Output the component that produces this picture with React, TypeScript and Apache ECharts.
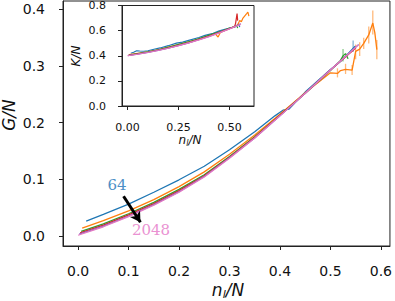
import React, { useEffect, useRef } from "react";
import * as echarts from "echarts";

// ---- Main panel data: G/N vs n_l/N ----
const sizes = ["64", "128", "256", "512", "1024", "2048"];
const colors = ["#1f77b4", "#ff7f0e", "#2ca02c", "#d62728", "#9467bd", "#e377c2"];

const mainN64 = [0.016, 0.05, 0.1, 0.15, 0.2, 0.25, 0.3, 0.35, 0.39, 0.406, 0.418, 0.45, 0.5, 0.52, 0.535, 0.549];
const mainG64 = [0.026, 0.038, 0.056, 0.077, 0.099, 0.123, 0.152, 0.184, 0.212, 0.222, 0.224, 0.254, 0.294, 0.308, 0.322, 0.335];
const mainN128 = [0.008, 0.05, 0.1, 0.15, 0.2, 0.25, 0.3, 0.35, 0.4, 0.45, 0.5, 0.514, 0.52, 0.53, 0.543, 0.55, 0.558, 0.566, 0.576, 0.584, 0.588, 0.592];
const mainG128 = [0.0136, 0.027, 0.044, 0.064, 0.087, 0.113, 0.144, 0.178, 0.215, 0.253, 0.288, 0.287, 0.292, 0.294, 0.293, 0.326, 0.330, 0.340, 0.355, 0.376, 0.359, 0.329];
const mainN256 = [0.006, 0.05, 0.1, 0.15, 0.2, 0.25, 0.3, 0.35, 0.4, 0.45, 0.5, 0.52, 0.525, 0.53, 0.535];
const mainG256 = [0.008, 0.021, 0.039, 0.059, 0.082, 0.108, 0.140, 0.175, 0.213, 0.252, 0.292, 0.310, 0.318, 0.322, 0.313];
const mainN512 = [0.004, 0.05, 0.1, 0.15, 0.2, 0.25, 0.3, 0.35, 0.4, 0.45, 0.5, 0.54, 0.55];
const mainG512 = [0.005, 0.019, 0.037, 0.057, 0.080, 0.106, 0.139, 0.174, 0.213, 0.252, 0.293, 0.324, 0.332];
const mainN1024 = [0.002, 0.05, 0.1, 0.15, 0.2, 0.25, 0.3, 0.35, 0.4, 0.45, 0.5, 0.556];
const mainG1024 = [0.003, 0.017, 0.035, 0.055, 0.078, 0.105, 0.138, 0.173, 0.212, 0.252, 0.293, 0.338];
const mainN2048 = [0.0, 0.05, 0.1, 0.15, 0.2, 0.25, 0.3, 0.35, 0.4, 0.45, 0.5, 0.555];
const mainG2048 = [0.001, 0.016, 0.034, 0.054, 0.077, 0.104, 0.137, 0.173, 0.212, 0.252, 0.293, 0.337];

// error bars on the noisy tail (n, low, high)
const errN = [0.514, 0.53, 0.543, 0.55, 0.558, 0.566, 0.576, 0.584, 0.592, 0.525, 0.545];
const errLo = [0.280, 0.286, 0.284, 0.312, 0.318, 0.330, 0.340, 0.356, 0.312, 0.308, 0.325];
const errHi = [0.296, 0.304, 0.302, 0.338, 0.342, 0.350, 0.370, 0.398, 0.346, 0.330, 0.345];
const errColor = ["#ff7f0e", "#ff7f0e", "#ff7f0e", "#ff7f0e", "#ff7f0e", "#ff7f0e", "#ff7f0e", "#ff7f0e", "#ff7f0e", "#2ca02c", "#1f77b4"];

// ---- Inset data: K/N vs n_l/N ----
const insN64 = [0.016, 0.03, 0.045, 0.06, 0.08, 0.1, 0.13, 0.16, 0.2, 0.24, 0.27, 0.3, 0.35, 0.38, 0.42, 0.45, 0.5, 0.53, 0.545, 0.55];
const insK64 = [0.420, 0.428, 0.440, 0.438, 0.436, 0.440, 0.452, 0.462, 0.480, 0.500, 0.508, 0.522, 0.545, 0.562, 0.578, 0.598, 0.620, 0.632, 0.655, 0.628];
const insN128 = [0.008, 0.05, 0.1, 0.15, 0.2, 0.25, 0.3, 0.35, 0.4, 0.43, 0.444, 0.455, 0.5, 0.52, 0.54, 0.55, 0.558, 0.566, 0.576, 0.584, 0.59, 0.595];
const insK128 = [0.410, 0.420, 0.432, 0.448, 0.468, 0.488, 0.510, 0.532, 0.560, 0.575, 0.549, 0.585, 0.615, 0.630, 0.645, 0.680, 0.670, 0.700, 0.720, 0.735, 0.748, 0.715];
const insN256 = [0.006, 0.05, 0.1, 0.15, 0.2, 0.25, 0.3, 0.34, 0.38, 0.42, 0.46, 0.5, 0.52, 0.535, 0.54];
const insK256 = [0.405, 0.418, 0.432, 0.448, 0.468, 0.490, 0.510, 0.530, 0.552, 0.575, 0.595, 0.620, 0.628, 0.640, 0.620];
const insN512 = [0.004, 0.1, 0.2, 0.3, 0.4, 0.5, 0.525, 0.53, 0.537, 0.54];
const insK512 = [0.403, 0.428, 0.463, 0.505, 0.556, 0.617, 0.632, 0.660, 0.736, 0.680];
const insN1024 = [0.002, 0.05, 0.1, 0.15, 0.2, 0.25, 0.3, 0.35, 0.4, 0.45, 0.5, 0.556];
const insK1024 = [0.401, 0.413, 0.427, 0.443, 0.461, 0.481, 0.503, 0.527, 0.553, 0.583, 0.615, 0.655];
const insN2048 = [0.0, 0.05, 0.1, 0.15, 0.2, 0.25, 0.3, 0.35, 0.4, 0.45, 0.5, 0.555];
const insK2048 = [0.400, 0.412, 0.426, 0.442, 0.460, 0.480, 0.502, 0.526, 0.552, 0.582, 0.614, 0.650];

const mainXTicks = [0, 0.1, 0.2, 0.3, 0.4, 0.5, 0.6];
const mainYTicks = [0, 0.1, 0.2, 0.3, 0.4];
const insXTicks = [0, 0.25, 0.5];

const mainN = [mainN64, mainN128, mainN256, mainN512, mainN1024, mainN2048];
const mainG = [mainG64, mainG128, mainG256, mainG512, mainG1024, mainG2048];
const insN = [insN64, insN128, insN256, insN512, insN1024, insN2048];
const insK = [insK64, insK128, insK256, insK512, insK1024, insK2048];

const zip = (a: number[], b: number[]) => a.map((v, i) => [v, b[i]]);

const FONT = "DejaVu Sans";
const AX = "#222";

export default function App() {
  const ref = useRef<HTMLDivElement>(null);
  useEffect(() => {
    if (!ref.current) return;
    document.body.style.margin = "0";
    const chart = echarts.init(ref.current, null, { renderer: "svg" });

    const axisCommon = {
      splitLine: { show: false },
      axisLine: { show: true, onZero: false, lineStyle: { color: AX, width: 1 } },
      axisTick: { show: true, inside: false, length: 4, lineStyle: { color: AX } },
    };

    const series: any[] = [];
    sizes.forEach((s, i) => {
      series.push({
        name: "G" + s,
        type: "line",
        xAxisIndex: 0,
        yAxisIndex: 0,
        data: zip(mainN[i], mainG[i]),
        showSymbol: false,
        lineStyle: { color: colors[i], width: 1.3 },
        z: 2 + i * 0.01,
      });
    });
    series.push({
      type: "custom",
      xAxisIndex: 0,
      yAxisIndex: 0,
      data: errN.map((n, i) => [n, errLo[i], errHi[i], i]),
      renderItem: (params: any, api: any) => {
        const p1 = api.coord([api.value(0), api.value(1)]);
        const p2 = api.coord([api.value(0), api.value(2)]);
        const idx = api.value(3);
        return {
          type: "line",
          shape: { x1: p1[0], y1: p1[1], x2: p2[0], y2: p2[1] },
          style: { stroke: errColor[idx], lineWidth: 1.3, opacity: 0.55 },
        };
      },
      z: 2,
    });
    // arrow annotation
    series.push({
      type: "line",
      xAxisIndex: 0,
      yAxisIndex: 0,
      data: [],
      markLine: {
        silent: true,
        symbol: ["none", "arrow"],
        symbolSize: [9, 10],
        label: { show: false },
        lineStyle: { color: "#000", width: 3, type: "solid" },
        data: [[{ coord: [0.090, 0.070] }, { coord: [0.1235, 0.024] }]],
      },
      z: 5,
    });
    sizes.forEach((s, i) => {
      series.push({
        name: "K" + s,
        type: "line",
        xAxisIndex: 1,
        yAxisIndex: 1,
        data: zip(insN[i], insK[i]),
        showSymbol: false,
        lineStyle: { color: colors[i], width: 1.2 },
        z: 6 + i * 0.01,
      });
    });

    chart.setOption({
      animation: false,
      grid: [
        { left: 63, top: 1, width: 330, height: 245, show: true, borderColor: AX, borderWidth: 1, backgroundColor: "#fff", z: 0 },
        { left: 122, top: 5, width: 132, height: 101, show: true, borderColor: AX, borderWidth: 1, backgroundColor: "#fff", z: 5 },
      ],
      xAxis: [
        {
          ...axisCommon,
          type: "value",
          gridIndex: 0,
          min: -0.03,
          max: 0.618,
          axisTick: { ...axisCommon.axisTick, customValues: mainXTicks },
          axisLabel: {
            customValues: mainXTicks,
            formatter: (v: number) => v.toFixed(1),
            fontFamily: FONT,
            fontSize: 14,
            color: "#111",
            margin: 18,
          },
        },
        {
          ...axisCommon,
          type: "value",
          gridIndex: 1,
          min: -0.027,
          max: 0.62,
          z: 6,
          axisTick: { ...axisCommon.axisTick, customValues: insXTicks },
          axisLabel: {
            customValues: insXTicks,
            formatter: (v: number) => v.toFixed(2),
            fontFamily: FONT,
            fontSize: 11,
            color: "#111",
            margin: 16,
          },
        },
      ],
      yAxis: [
        {
          ...axisCommon,
          type: "value",
          gridIndex: 0,
          min: -0.018,
          max: 0.415,
          axisTick: { ...axisCommon.axisTick, customValues: mainYTicks },
          axisLabel: {
            customValues: mainYTicks,
            formatter: (v: number) => v.toFixed(1),
            fontFamily: FONT,
            fontSize: 14,
            color: "#111",
            margin: 18,
          },
        },
        {
          ...axisCommon,
          type: "value",
          gridIndex: 1,
          min: 0,
          max: 0.8,
          interval: 0.2,
          z: 6,
          axisLabel: {
            formatter: (v: number) => v.toFixed(1),
            fontFamily: FONT,
            fontSize: 11,
            color: "#111",
            margin: 16,
          },
        },
      ],
      series,
      graphic: [
        {
          type: "text",
          x: 9,
          y: 115,
          rotation: Math.PI / 2,
          style: {
            text: "G/N",
            fontFamily: FONT,
            fontStyle: "italic",
            fontSize: 17,
            fill: "#111",
            align: "center",
            verticalAlign: "middle",
          },
        },
        {
          type: "text",
          x: 228,
          y: 290,
          style: {
            text: "{a|n}{b|l}{a|/N}",
            align: "center",
            verticalAlign: "middle",
            rich: {
              a: { fontFamily: FONT, fontStyle: "italic", fontSize: 17, fill: "#111" },
              b: { fontFamily: FONT, fontStyle: "italic", fontSize: 11, fill: "#111", padding: [8, 0, 0, 0] },
            },
          },
        },
        {
          type: "text",
          x: 76,
          y: 56,
          rotation: Math.PI / 2,
          z: 10,
          style: {
            text: "K/N",
            fontFamily: FONT,
            fontStyle: "italic",
            fontSize: 12,
            fill: "#111",
            align: "center",
            verticalAlign: "middle",
          },
        },
        {
          type: "text",
          x: 190,
          y: 140,
          z: 10,
          style: {
            text: "{a|n}{b|l}{a|/N}",
            align: "center",
            verticalAlign: "middle",
            rich: {
              a: { fontFamily: FONT, fontStyle: "italic", fontSize: 12, fill: "#111" },
              b: { fontFamily: FONT, fontStyle: "italic", fontSize: 8, fill: "#111", padding: [6, 0, 0, 0] },
            },
          },
        },
        {
          type: "text",
          x: 117,
          y: 185,
          z: 10,
          style: {
            text: "64",
            fontFamily: "DejaVu Serif",
            fontSize: 15,
            fill: "#4d8fc6",
            align: "center",
            verticalAlign: "middle",
          },
        },
        {
          type: "text",
          x: 151,
          y: 230,
          z: 10,
          style: {
            text: "2048",
            fontFamily: "DejaVu Serif",
            fontSize: 15,
            fill: "#ea92d2",
            align: "center",
            verticalAlign: "middle",
          },
        },
      ],
    });
    return () => chart.dispose();
  }, []);
  return <div ref={ref} style={{ width: 395, height: 301 }} />;
}
